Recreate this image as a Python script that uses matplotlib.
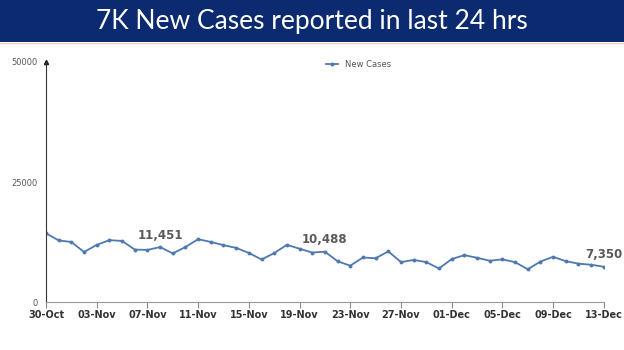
import matplotlib
matplotlib.use('Agg')
import matplotlib.pyplot as plt
from matplotlib.patches import Rectangle

# daily new cases, 30-Oct .. 13-Dec
dates = ['30-Oct', '31-Oct'] + ['%02d-Nov' % d for d in range(1, 31)] + ['%02d-Dec' % d for d in range(1, 14)]
new_cases = [14313, 12830, 12514, 10423, 11903, 12885, 12729, 10929, 10853, 11451,
             10126, 11466, 13091, 12516, 11850, 11271, 10229, 8865, 10197, 11919,
             11106, 10302, 10488, 8488, 7579, 9283, 9119, 10549, 8318, 8774,
             8309, 6990, 8954, 9765, 9216, 8603, 8895, 8306, 6822, 8439,
             9419, 8503, 7992, 7774, 7350]
labelled = ['08-Nov', '21-Nov', '13-Dec']
y_ticks = [0, 25000, 50000]
title = '7K New Cases reported in last 24 hrs'

fig = plt.figure(figsize=(6.24, 3.5), dpi=100)

# title banner
fig.patches.append(Rectangle((0, 0.88), 1, 0.12, transform=fig.transFigure,
                             facecolor='#0b2a6f', edgecolor='none'))
fig.lines.append(plt.Line2D([0, 1], [0.878, 0.878], transform=fig.transFigure,
                            color='#e8c9c0', linewidth=1))
fig.text(0.5, 0.94, title, color='white', fontsize=19, family='Lato',
         ha='center', va='center')

ax = fig.add_axes([0.0737, 0.137, 0.894, 0.686])
x = list(range(len(dates)))
ax.plot(x, new_cases, color='#4f79b0', linewidth=1.3, marker='o', markersize=1.8,
        label='New Cases')

for d in labelled:
    i = dates.index(d)
    ax.annotate('{:,}'.format(new_cases[i]), (i, new_cases[i]), xytext=(0, 4),
                textcoords='offset points', ha='center', va='bottom',
                fontsize=8.5, fontweight='bold', color='#595959')

ax.set_xlim(0, len(dates) - 1)
ax.set_ylim(0, 50000)
ax.set_xticks(x[::4])
ax.set_xticklabels(dates[::4], fontsize=7, fontweight='bold', color='#333333')
ax.set_yticks(y_ticks)
ax.set_yticklabels([str(v) for v in y_ticks], fontsize=6, color='#555555')
ax.tick_params(axis='y', length=0, pad=6)
ax.tick_params(axis='x', length=4, color='#888888', pad=2)

for s in ['top', 'right']:
    ax.spines[s].set_visible(False)
ax.spines['left'].set_color('#333333')
ax.spines['bottom'].set_color('#999999')
# arrow head on y axis
ax.plot(0, 1, marker='^', markersize=3, color='#222222', transform=ax.transAxes,
        clip_on=False)

ax.legend(loc='upper center', bbox_to_anchor=(0.56, 1.04), frameon=False,
          fontsize=6, labelcolor='#555555', handlelength=1.5)

fig.savefig('out.png', dpi=100)
plt.close(fig)
